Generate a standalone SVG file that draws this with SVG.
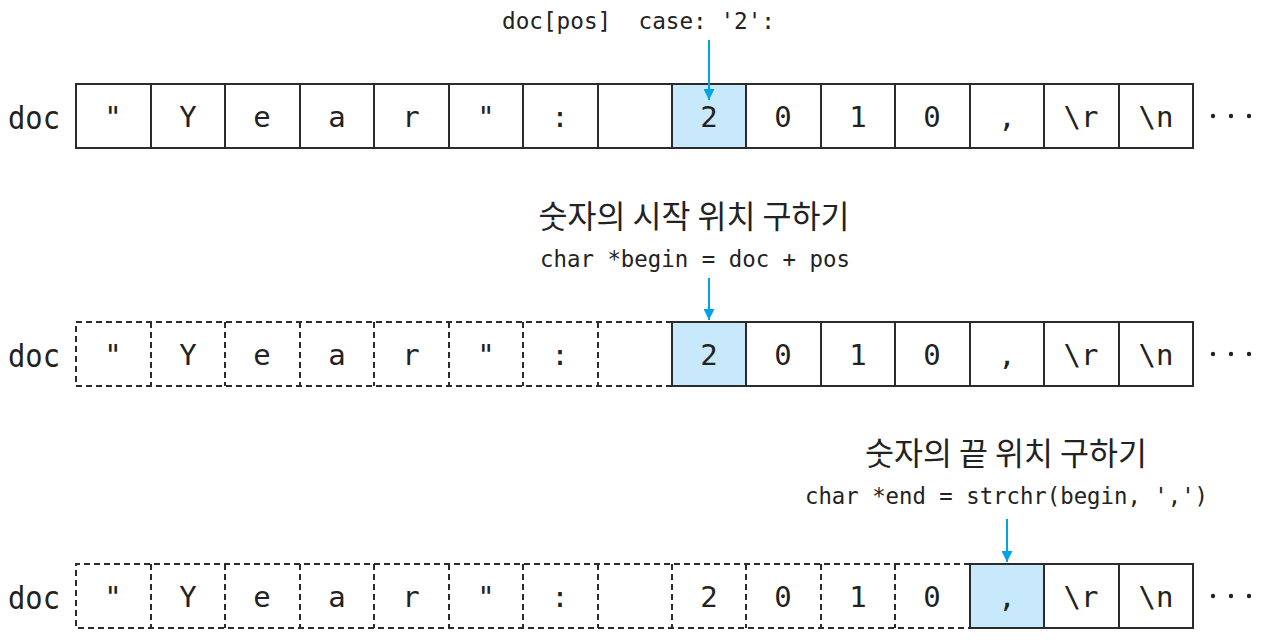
<svg xmlns="http://www.w3.org/2000/svg" width="1279" height="642" viewBox="0 0 1279 642">
<style>
.bg{fill:#fff}
.cell{fill:#fff;stroke:#2b2b2b;stroke-width:2}
.hl{fill:#c8e9fb;stroke:#2b2b2b;stroke-width:2}
.dash{fill:none;stroke:#2b2b2b;stroke-width:2;stroke-dasharray:6 4}
.ch{font-family:"DejaVu Sans Mono","Liberation Mono",monospace;font-size:29px;fill:#222;text-anchor:middle}
.lbl{font-family:"DejaVu Sans Mono","Liberation Mono",monospace;font-size:32px;fill:#222}
.code{font-family:"DejaVu Sans Mono","Liberation Mono",monospace;font-size:23.5px;fill:#222}
.kr{font-family:"Noto Sans CJK KR","Noto Sans",sans-serif;font-size:31.5px;fill:#222}
.arr{stroke:#00a3e8;stroke-width:2;fill:none}
.dot{fill:#222}
</style>
<defs>
<marker id="ah" viewBox="0 0 10 10" refX="10" refY="5" markerWidth="5.5" markerHeight="5.5" markerUnits="strokeWidth" orient="auto">
<path d="M0,0 L10,5 L0,10 Z" fill="#00a3e8"/>
</marker>
</defs>
<rect class="bg" width="1279" height="642"/>

<g id="row1">
<text class="lbl" x="8" y="129" textLength="52" lengthAdjust="spacingAndGlyphs">doc</text>
<rect class="cell" x="76" y="84" width="1117" height="64"/>
<rect class="hl" x="672" y="84" width="74" height="64"/>
<path d="M151,84V148M225,84V148M300,84V148M374,84V148M449,84V148M523,84V148M598,84V148M672,84V148M746,84V148M821,84V148M895,84V148M970,84V148M1044,84V148M1119,84V148" stroke="#2b2b2b" stroke-width="2"/>
<text class="ch" x="113" y="127">"</text>
<text class="ch" x="188" y="127">Y</text>
<text class="ch" x="262" y="127">e</text>
<text class="ch" x="337" y="127">a</text>
<text class="ch" x="411" y="127">r</text>
<text class="ch" x="486" y="127">"</text>
<text class="ch" x="560" y="127">:</text>
<text class="ch" x="709" y="127">2</text>
<text class="ch" x="783" y="127">0</text>
<text class="ch" x="858" y="127">1</text>
<text class="ch" x="932" y="127">0</text>
<text class="ch" x="1007" y="127">,</text>
<text class="ch" x="1081" y="127">\r</text>
<text class="ch" x="1156" y="127">\n</text>
<circle class="dot" cx="1213" cy="116" r="2.2"/><circle class="dot" cx="1231" cy="116" r="2.2"/><circle class="dot" cx="1249" cy="116" r="2.2"/>
</g>

<g id="row2">
<text class="lbl" x="8" y="367" textLength="52" lengthAdjust="spacingAndGlyphs">doc</text>
<path class="dash" d="M672,322H76V386H672M151,322V386M225,322V386M300,322V386M374,322V386M449,322V386M523,322V386M598,322V386"/>
<rect class="cell" x="672" y="322" width="521" height="64"/>
<rect class="hl" x="672" y="322" width="74" height="64"/>
<path d="M746,322V386M821,322V386M895,322V386M970,322V386M1044,322V386M1119,322V386" stroke="#2b2b2b" stroke-width="2"/>
<text class="ch" x="113" y="365">"</text>
<text class="ch" x="188" y="365">Y</text>
<text class="ch" x="262" y="365">e</text>
<text class="ch" x="337" y="365">a</text>
<text class="ch" x="411" y="365">r</text>
<text class="ch" x="486" y="365">"</text>
<text class="ch" x="560" y="365">:</text>
<text class="ch" x="709" y="365">2</text>
<text class="ch" x="783" y="365">0</text>
<text class="ch" x="858" y="365">1</text>
<text class="ch" x="932" y="365">0</text>
<text class="ch" x="1007" y="365">,</text>
<text class="ch" x="1081" y="365">\r</text>
<text class="ch" x="1156" y="365">\n</text>
<circle class="dot" cx="1213" cy="354" r="2.2"/><circle class="dot" cx="1231" cy="354" r="2.2"/><circle class="dot" cx="1249" cy="354" r="2.2"/>
</g>

<g id="row3">
<text class="lbl" x="8" y="609" textLength="52" lengthAdjust="spacingAndGlyphs">doc</text>
<path class="dash" d="M970,564H76V628H970M151,564V628M225,564V628M300,564V628M374,564V628M449,564V628M523,564V628M598,564V628M672,564V628M746,564V628M821,564V628M895,564V628"/>
<rect class="cell" x="970" y="564" width="223" height="64"/>
<rect class="hl" x="970" y="564" width="74" height="64"/>
<path d="M1044,564V628M1119,564V628" stroke="#2b2b2b" stroke-width="2"/>
<text class="ch" x="113" y="607">"</text>
<text class="ch" x="188" y="607">Y</text>
<text class="ch" x="262" y="607">e</text>
<text class="ch" x="337" y="607">a</text>
<text class="ch" x="411" y="607">r</text>
<text class="ch" x="486" y="607">"</text>
<text class="ch" x="560" y="607">:</text>
<text class="ch" x="709" y="607">2</text>
<text class="ch" x="783" y="607">0</text>
<text class="ch" x="858" y="607">1</text>
<text class="ch" x="932" y="607">0</text>
<text class="ch" x="1007" y="607">,</text>
<text class="ch" x="1081" y="607">\r</text>
<text class="ch" x="1156" y="607">\n</text>
<circle class="dot" cx="1213" cy="596" r="2.2"/><circle class="dot" cx="1231" cy="596" r="2.2"/><circle class="dot" cx="1249" cy="596" r="2.2"/>
</g>

<g id="labels">
<text class="code" x="502" y="29" xml:space="preserve" textLength="273" lengthAdjust="spacingAndGlyphs">doc[pos]  case: '2':</text>
<text class="kr" x="694" y="228" text-anchor="middle">숫자의 시작 위치 구하기</text>
<text class="code" x="540" y="267" textLength="310" lengthAdjust="spacingAndGlyphs">char *begin = doc + pos</text>
<text class="kr" x="1006" y="465" text-anchor="middle">숫자의 끝 위치 구하기</text>
<text class="code" x="805" y="504" textLength="403" lengthAdjust="spacingAndGlyphs">char *end = strchr(begin, ',')</text>
</g>

<g id="connectors">
<line class="arr" x1="709" y1="40" x2="709" y2="100" marker-end="url(#ah)"/>
<line class="arr" x1="709" y1="278" x2="709" y2="320" marker-end="url(#ah)"/>
<line class="arr" x1="1007" y1="519" x2="1007" y2="562" marker-end="url(#ah)"/>
</g>
</svg>
